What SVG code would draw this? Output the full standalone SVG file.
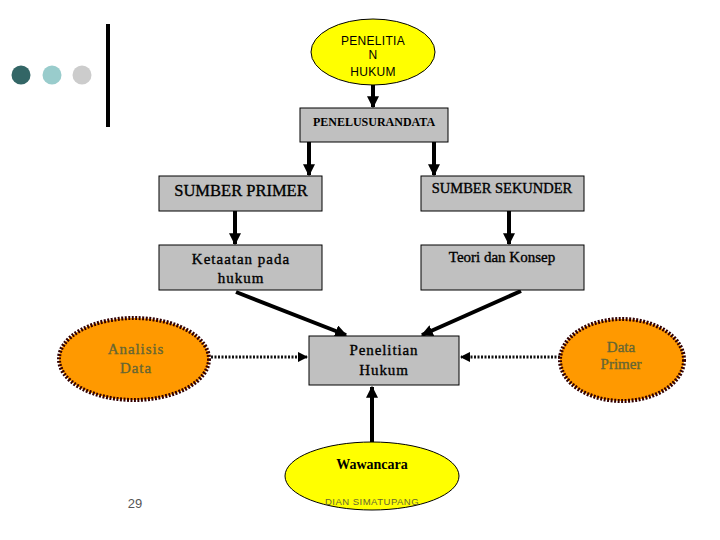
<svg xmlns="http://www.w3.org/2000/svg" width="720" height="540" viewBox="0 0 720 540">
<defs>
<style>
.box{fill:#C0C0C0;stroke:#000;stroke-width:1}
.serif{font-family:"Liberation Serif","Times New Roman",serif;fill:#000;stroke:#000;stroke-width:0.35}
.sans{font-family:"Liberation Sans",Arial,sans-serif}
.con{stroke:#000;stroke-width:4;fill:none}
.dot{stroke:#111;stroke-width:3;stroke-dasharray:2 1.5;fill:none}
.oval{fill:#FF9900;stroke:#330000;stroke-width:4;stroke-dasharray:2 1.5}
.olive{fill:#666633;stroke:#666633}
</style>
<marker id="ah" viewBox="0 0 10 10" refX="9" refY="5" markerWidth="3" markerHeight="3" orient="auto" markerUnits="strokeWidth">
<path d="M0,0 L10,5 L0,10 z" fill="#000"/>
</marker>
<marker id="ahd" viewBox="0 0 10 10" refX="9" refY="5" markerWidth="3.5" markerHeight="3.5" orient="auto" markerUnits="strokeWidth">
<path d="M0,0 L10,5 L0,10 z" fill="#000"/>
</marker>
</defs>
<rect width="720" height="540" fill="#fff"/>
<g id="decor">
<circle cx="21" cy="75" r="9.5" fill="#336666"/>
<circle cx="52" cy="75" r="9.5" fill="#99CCCC"/>
<circle cx="82" cy="75" r="9.5" fill="#CCCCCC"/>
<rect x="106" y="24" width="4" height="103" fill="#000"/>
<text x="135" y="508" class="sans" font-size="13" fill="#555" text-anchor="middle">29</text>
</g>
<g id="connectors">
<line class="con" x1="373" y1="85" x2="373" y2="107" marker-end="url(#ah)"/>
<line class="con" x1="309" y1="142" x2="309" y2="175" marker-end="url(#ah)"/>
<line class="con" x1="434" y1="142" x2="434" y2="175" marker-end="url(#ah)"/>
<line class="con" x1="235" y1="211" x2="235" y2="244" marker-end="url(#ah)"/>
<line class="con" x1="509" y1="211" x2="509" y2="244" marker-end="url(#ah)"/>
<line class="con" x1="236" y1="292" x2="346" y2="335" marker-end="url(#ah)"/>
<line class="con" x1="521" y1="291" x2="422" y2="335" marker-end="url(#ah)"/>
<line class="dot" x1="211" y1="357" x2="307" y2="357" marker-end="url(#ahd)"/>
<line class="dot" x1="560" y1="357" x2="461" y2="357" marker-end="url(#ahd)"/>
<line class="con" x1="372" y1="442" x2="372" y2="387" marker-end="url(#ah)"/>
</g>
<g id="penelitian-hukum-top">
<ellipse cx="373" cy="52" rx="62" ry="33" fill="#FFFF00" stroke="#000" stroke-width="1"/>
<text class="sans" font-size="12" fill="#000" text-anchor="middle" letter-spacing="0.3"><tspan x="373" y="45">PENELITIA</tspan><tspan x="373" y="59">N</tspan><tspan x="373" y="76">HUKUM</tspan></text>
</g>
<g id="penelusuran">
<rect class="box" x="300" y="108" width="148" height="34"/>
<text class="serif" x="374" y="126" font-size="12" font-weight="bold" text-anchor="middle" style="stroke-width:0">PENELUSURANDATA</text>
</g>
<g id="sumber-primer">
<rect class="box" x="159" y="176" width="163" height="35"/>
<text class="serif" x="241" y="196" font-size="16.5" text-anchor="middle">SUMBER PRIMER</text>
</g>
<g id="sumber-sekunder">
<rect class="box" x="421" y="176" width="163" height="35"/>
<text class="serif" x="502" y="193" font-size="14.5" text-anchor="middle">SUMBER SEKUNDER</text>
</g>
<g id="ketaatan">
<rect class="box" x="159" y="245" width="163" height="45"/>
<text class="serif" font-size="15" text-anchor="middle" letter-spacing="1"><tspan x="241" y="264">Ketaatan pada</tspan><tspan x="241" y="283">hukum</tspan></text>
</g>
<g id="teori">
<rect class="box" x="421" y="245" width="163" height="45"/>
<text class="serif" x="502" y="262" font-size="15" text-anchor="middle">Teori dan Konsep</text>
</g>
<g id="penelitian-hukum">
<rect class="box" x="309" y="336" width="150" height="49"/>
<text class="serif" font-size="15" text-anchor="middle" letter-spacing="0.9"><tspan x="384" y="355">Penelitian</tspan><tspan x="384" y="375">Hukum</tspan></text>
</g>
<g id="analisis-data">
<ellipse class="oval" cx="134" cy="359" rx="75" ry="41"/>
<text class="serif olive" font-size="15" text-anchor="middle" letter-spacing="0.9"><tspan x="136" y="354">Analisis</tspan><tspan x="136" y="373">Data</tspan></text>
</g>
<g id="data-primer">
<ellipse class="oval" cx="622" cy="360" rx="62" ry="41"/>
<text class="serif olive" font-size="15" text-anchor="middle"><tspan x="621" y="352">Data</tspan><tspan x="621" y="369">Primer</tspan></text>
</g>
<g id="wawancara">
<ellipse cx="372" cy="476" rx="87" ry="34" fill="#FFFF00" stroke="#000" stroke-width="1"/>
<text class="serif" x="372" y="469" font-size="14" font-weight="bold" text-anchor="middle" style="stroke-width:0">Wawancara</text>
<text class="sans" x="372" y="505" font-size="9.5" fill="#666633" text-anchor="middle" letter-spacing="0.5">DIAN SIMATUPANG</text>
</g>
</svg>
